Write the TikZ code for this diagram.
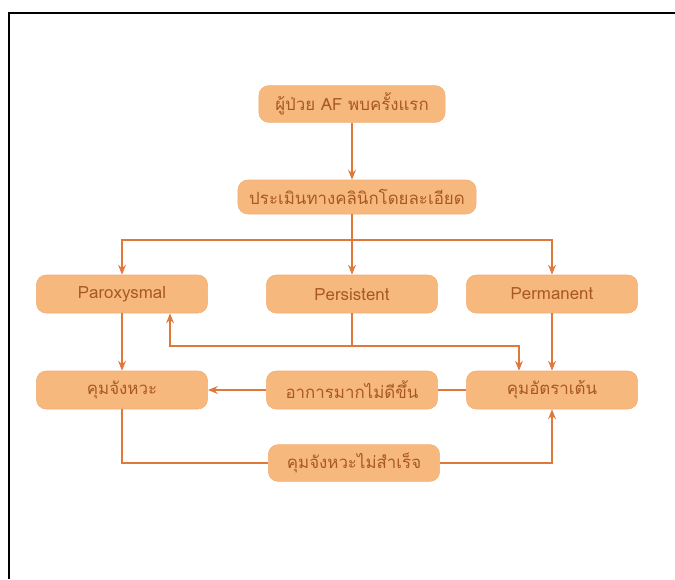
\documentclass[tikz,border=0pt]{standalone}
\usepackage{fontspec}
\setmainfont{Liberation Sans}
\newfontfamily\thaifont[Script=Thai]{Loma}
\usetikzlibrary{arrows.meta}
\definecolor{boxfill}{RGB}{247,184,126}
\definecolor{linecol}{RGB}{224,120,58}
\definecolor{textcol}{RGB}{168,88,34}

\begin{document}
\begin{tikzpicture}[x=0.025cm,y=-0.025cm,>={Stealth[length=7pt,width=5.5pt]},
  box/.style={fill=boxfill,draw=boxfill!85!linecol,rounded corners=7pt,text=textcol,
    font=\thaifont\fontsize{12}{14}\selectfont,minimum width=4.28cm,minimum height=0.95cm,inner sep=1pt},
  link/.style={draw=linecol,line width=1.4pt}]
\useasboundingbox (0,0) rectangle (675,579);
\draw[line width=1.8pt] (9,579) -- (9,13) -- (675,13);

\node[box,minimum width=4.65cm,minimum height=0.92cm] (first) at (352,104) {ผู้ป่วย AF พบครั้งแรก};
\node[box,minimum width=5.95cm,minimum height=0.85cm] (eval) at (357,197) {ประเมินทางคลินิกโดยละเอียด};
\node[box] (parox) at (122,294) {Paroxysmal};
\node[box] (persist) at (352,294) {Persistent};
\node[box] (perm) at (552,294) {Permanent};
\node[box] (rhythm) at (122,390) {คุมจังหวะ};
\node[box] (symptom) at (352,390) {อาการมากไม่ดีขึ้น};
\node[box] (rate) at (552,390) {คุมอัตราเต้น};
\node[box,minimum height=0.92cm] (fail) at (354,463) {คุมจังหวะไม่สำเร็จ};
\coordinate (split) at (352,240);
\coordinate (join) at (352,346);

\draw[link,->] (first) -- (first |- eval.north);
\draw[link] (split |- eval.south) -- (split);
\draw[link,->] (split) -| (parox);
\draw[link,->] (split) -- (persist);
\draw[link,->] (split) -| (perm);
\draw[link] (persist) -- (join);
\draw[link,->] (join) -| ([xshift=1.2cm]parox.south);
\draw[link,->] (join) -| ([xshift=-0.825cm]rate.north);
\draw[link,->] (parox) -- (rhythm);
\draw[link,->] (perm) -- (rate);
\draw[link] (rate) -- (symptom);
\draw[link,->] (symptom) -- (rhythm);
\draw[link] (rhythm) |- (fail);
\draw[link,->] (fail) -| (rate);
\end{tikzpicture}
\end{document}
